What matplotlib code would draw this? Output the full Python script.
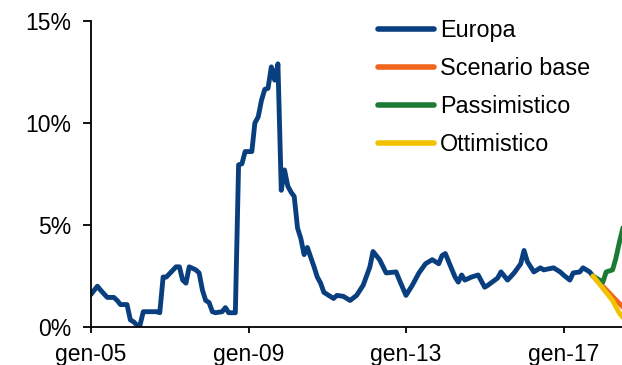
import numpy as np
import pandas as pd
import matplotlib
matplotlib.use("Agg")
import matplotlib.pyplot as plt

plt.rcParams["font.family"] = ["Liberation Sans", "DejaVu Sans"]

# Europa, monthly vertices (month, %)
europa_dates = [
    "2005-01", "2005-03", "2005-04", "2005-06", "2005-08", "2005-09", "2005-10",
    "2005-12", "2006-01", "2006-02", "2006-03", "2006-04", "2006-05", "2006-09",
    "2006-10", "2006-11", "2006-12", "2007-03", "2007-04", "2007-05", "2007-06",
    "2007-07", "2007-09", "2007-10", "2007-11", "2007-12", "2008-01", "2008-02",
    "2008-03", "2008-05", "2008-06", "2008-07", "2008-09", "2008-10", "2008-11",
    "2008-12", "2009-02", "2009-03", "2009-04", "2009-05", "2009-06", "2009-07",
    "2009-08", "2009-09", "2009-10", "2009-11", "2009-12", "2010-01", "2010-02",
    "2010-03", "2010-04", "2010-05", "2010-06", "2010-07", "2010-09", "2010-10",
    "2010-11", "2010-12", "2011-03", "2011-04", "2011-06", "2011-08", "2011-10",
    "2011-12", "2012-02", "2012-03", "2012-05", "2012-07", "2012-10", "2012-11",
    "2013-01", "2013-03", "2013-05", "2013-07", "2013-09", "2013-11", "2013-12",
    "2014-01", "2014-02", "2014-04", "2014-05", "2014-06", "2014-07", "2014-09",
    "2014-11", "2015-01", "2015-02", "2015-05", "2015-06", "2015-08", "2015-10",
    "2015-12", "2016-01", "2016-02", "2016-04", "2016-06", "2016-07", "2016-10",
    "2016-12", "2017-01", "2017-03", "2017-04", "2017-06", "2017-07", "2017-09",
    "2017-10",
]
europa_vals = [
    1.6, 2.0, 1.8, 1.45, 1.45, 1.3, 1.1,
    1.1, 0.35, 0.25, 0.1, 0.1, 0.75, 0.75,
    0.7, 2.45, 2.45, 2.95, 2.95, 2.3, 2.15,
    2.95, 2.8, 2.65, 1.8, 1.3, 1.2, 0.75,
    0.7, 0.75, 0.95, 0.7, 0.7, 7.95, 8.0,
    8.6, 8.6, 10.0, 10.3, 11.1, 11.65, 11.7,
    12.75, 12.1, 12.9, 6.7, 7.7, 6.9, 6.6,
    6.4, 4.85, 4.35, 3.55, 3.9, 2.95, 2.45,
    2.15, 1.7, 1.4, 1.55, 1.5, 1.3, 1.55,
    2.05, 2.95, 3.7, 3.3, 2.65, 2.7, 2.3,
    1.55, 2.05, 2.65, 3.1, 3.3, 3.1, 3.5,
    3.6, 3.2, 2.45, 2.2, 2.55, 2.3, 2.45,
    2.55, 1.95, 2.05, 2.4, 2.7, 2.3, 2.65,
    3.1, 3.75, 3.2, 2.7, 2.9, 2.8, 2.9,
    2.7, 2.55, 2.3, 2.65, 2.7, 2.9, 2.7,
    2.5,
]

base_dates = ["2017-10", "2018-01", "2018-04", "2018-07", "2018-10"]
base_vals = [2.5, 2.0, 1.5, 1.0, 0.5]

pess_dates = ["2017-10", "2018-01", "2018-02", "2018-04", "2018-05", "2018-06", "2018-07", "2018-09"]
pess_vals = [2.5, 2.2, 2.7, 2.8, 3.35, 4.1, 4.75, 6.0]

ott_dates = ["2017-10", "2018-01", "2018-04", "2018-06", "2018-08"]
ott_vals = [2.5, 1.9, 1.3, 0.7, 0.3]

tick_dates = ["2005-01", "2009-01", "2013-01", "2017-01"]
tick_labels = ["gen-05", "gen-09", "gen-13", "gen-17"]
y_ticks = [0, 5, 10, 15]

series = [
    ("Europa", europa_dates, europa_vals, "#0a3f7f"),
    ("Scenario base", base_dates, base_vals, "#f0661c"),
    ("Passimistico", pess_dates, pess_vals, "#1b7a33"),
    ("Ottimistico", ott_dates, ott_vals, "#f2c200"),
]

fig = plt.figure(figsize=(6.22, 3.65), dpi=100)
# axes runs past the right edge, like the cropped original
ax = fig.add_axes([91 / 622, 38 / 365, 630 / 622, 306 / 365])

for name, d, v, c in series:
    ax.plot(pd.to_datetime(d), v, color=c, lw=3.5, label=name,
            solid_joinstyle="round", solid_capstyle="round")

ax.set_xlim(pd.Timestamp("2005-01-01"), pd.Timestamp("2021-01-01"))
ax.set_ylim(0, 15)
ax.set_yticks(y_ticks)
ax.set_yticklabels([f"{t}%" for t in y_ticks])
ax.set_xticks(pd.to_datetime(tick_dates))
ax.set_xticklabels(tick_labels)

for s in ["top", "right"]:
    ax.spines[s].set_visible(False)
for s in ["left", "bottom"]:
    ax.spines[s].set_linewidth(1.3)
ax.tick_params(axis="y", direction="out", length=6, width=1.3, pad=8, labelsize=16.5)
ax.tick_params(axis="x", direction="out", length=4.5, width=1.3, pad=7, labelsize=16.5)

leg = fig.legend(loc="upper left", bbox_to_anchor=(369 / 622, 1 - 10 / 365),
                 frameon=False, fontsize=16.8, handlelength=2.4,
                 labelspacing=0.64, handletextpad=0.25, borderaxespad=0)
for line in leg.get_lines():
    line.set_linewidth(4)

fig.savefig("out.png", dpi=100)
